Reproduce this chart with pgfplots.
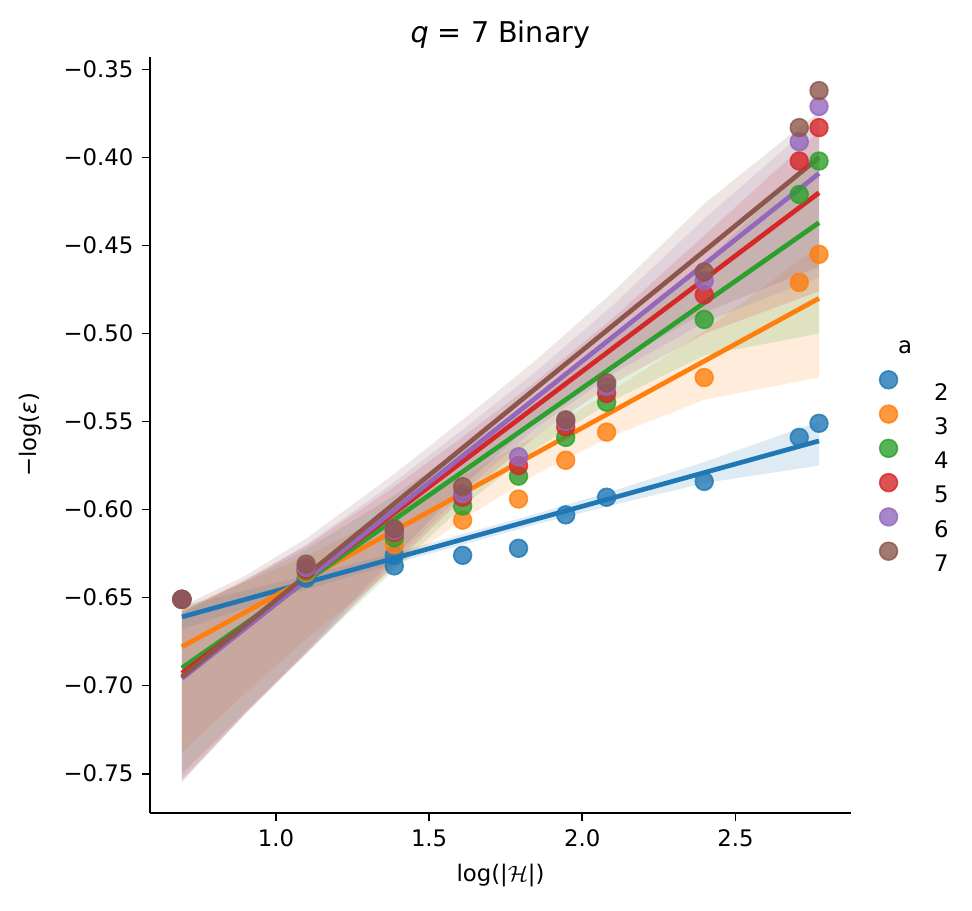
\documentclass[border=0pt]{standalone}
\usepackage{fontspec}
\setmainfont{DejaVu Sans}
\usepackage{pgfplots}
\pgfplotsset{compat=1.18}
\definecolor{c2}{HTML}{1F77B4}
\definecolor{c3}{HTML}{FF7F0E}
\definecolor{c4}{HTML}{2CA02C}
\definecolor{c5}{HTML}{D62728}
\definecolor{c6}{HTML}{9467BD}
\definecolor{c7}{HTML}{8C564B}
\pgfplotsset{
  pts/.style={only marks, mark=*, mark size=3.2pt, color=#1, fill opacity=0.8, draw opacity=0.8, mark options={line width=0.6pt}},
  fit/.style={color=#1, line width=1.7pt, forget plot},
  band/.style={fill=#1, fill opacity=0.15, draw=none, forget plot},
}
\begin{document}
\fontsize{8.2}{10}\selectfont
\begin{tikzpicture}
\begin{axis}[name=ax, scale only axis, width=252.36pt, height=272.16pt,
  xmin=0.589, xmax=2.877, ymin=-0.7724, ymax=-0.3429,
  axis x line*=bottom, axis y line*=left,
  axis line style={line width=0.66pt, -},
  xtick={1,1.5,2,2.5}, xticklabels={1.0,1.5,2.0,2.5},
  ytick={-0.75,-0.7,-0.65,-0.6,-0.55,-0.5,-0.45,-0.4,-0.35},
  yticklabels={−0.75,−0.70,−0.65,−0.60,−0.55,−0.50,−0.45,−0.40,−0.35},
  tick align=outside, major tick length=2.9pt,
  tick style={line width=0.66pt, black},
  ticklabel style={font=\fontsize{8.2}{10}\selectfont},
  xticklabel style={anchor=north, inner sep=0pt, yshift=-2.9pt},
  yticklabel style={anchor=east, inner sep=0pt, xshift=-2.9pt},
  xlabel={log(|$\mathcal{H}$|)}, ylabel={−log(\textit{ε})},
  label style={font=\fontsize{8.2}{10}\selectfont},
  xlabel style={at={(axis description cs:0.5,-0.082)}, anchor=center},
  ylabel style={at={(axis description cs:-0.1712,0.5)}, anchor=center},
  every axis title shift=0pt,
  title={\textit{q} = 7 Binary},
  title style={font=\fontsize{10.3}{12}\selectfont, at={(axis description cs:0.5,1)}, anchor=base, yshift=5.4pt},
  legend style={draw=none, fill=none, inner sep=0pt, outer sep=0pt,
    font=\fontsize{8.2}{10}\selectfont,
    at={(axis description cs:1.0409,0.5848)}, anchor=north west,
    row sep=1.84pt, column sep=0pt,
    nodes={inner sep=0pt, text height=7.3pt, text depth=0pt}},
  legend cell align=left,
  legend image code/.code={\path (0pt,0pt) (16.2pt,0pt); \draw[#1] plot coordinates {(0pt,3.65pt)};},
]
% a = 2
\addplot[pts=c2] coordinates {(0.6931,-0.651) (1.0986,-0.639) (1.3863,-0.632) (1.3863,-0.626) (1.6094,-0.626) (1.7918,-0.622) (1.9459,-0.603) (2.0794,-0.593) (2.3979,-0.584) (2.7081,-0.559) (2.7726,-0.551)};
\addlegendentry{2}
\addplot[band=c2] coordinates {(0.6931,-0.668) (0.9,-0.656) (1.1,-0.6454) (1.374,-0.6313) (1.6,-0.6204) (1.85,-0.6084) (2.1,-0.5974) (2.4,-0.5849) (2.7726,-0.575)
 (2.7726,-0.550) (2.4,-0.5729) (2.1,-0.5894) (1.85,-0.6024) (1.6,-0.6144) (1.374,-0.6253) (1.1,-0.6374) (0.9,-0.646) (0.6931,-0.655)} -- cycle;
% a = 3
\addplot[pts=c3] coordinates {(0.6931,-0.651) (1.0986,-0.636) (1.3863,-0.620) (1.6094,-0.606) (1.7918,-0.594) (1.9459,-0.572) (2.0794,-0.556) (2.3979,-0.525) (2.7081,-0.471) (2.7726,-0.455)};
\addlegendentry{3}
\addplot[band=c3] coordinates {(0.6931,-0.738) (0.9,-0.7043) (1.1,-0.6733) (1.374,-0.6352) (1.6,-0.6067) (1.85,-0.5799) (2.1,-0.5581) (2.4,-0.5375) (2.7726,-0.525)
 (2.7726,-0.450) (2.4,-0.4985) (2.1,-0.5321) (1.85,-0.5579) (1.6,-0.5817) (1.374,-0.6022) (1.1,-0.6263) (0.9,-0.6413) (0.6931,-0.656)} -- cycle;
% a = 4
\addplot[pts=c4] coordinates {(0.6931,-0.651) (1.0986,-0.635) (1.3863,-0.616) (1.6094,-0.598) (1.7918,-0.581) (1.9459,-0.559) (2.0794,-0.539) (2.3979,-0.492) (2.7081,-0.421) (2.7726,-0.402)};
\addlegendentry{4}
\addplot[band=c4] coordinates {(0.6931,-0.750) (0.9,-0.7148) (1.1,-0.6815) (1.374,-0.6362) (1.6,-0.5997) (1.85,-0.5653) (2.1,-0.5379) (2.4,-0.5124) (2.7726,-0.500)
 (2.7726,-0.397) (2.4,-0.4594) (2.1,-0.5029) (1.85,-0.5363) (1.6,-0.5667) (1.374,-0.5932) (1.1,-0.6225) (0.9,-0.6408) (0.6931,-0.658)} -- cycle;
% a = 5
\addplot[pts=c5] coordinates {(0.6931,-0.651) (1.0986,-0.634) (1.3863,-0.613) (1.6094,-0.593) (1.7918,-0.575) (1.9459,-0.553) (2.0794,-0.534) (2.3979,-0.478) (2.7081,-0.402) (2.7726,-0.383)};
\addlegendentry{5}
\addplot[band=c5] coordinates {(0.6931,-0.753) (0.9,-0.7158) (1.1,-0.6816) (1.374,-0.6336) (1.6,-0.5950) (1.85,-0.5581) (2.1,-0.5283) (2.4,-0.5000) (2.7726,-0.476)
 (2.7726,-0.385) (2.4,-0.4440) (2.1,-0.4913) (1.85,-0.5271) (1.6,-0.5600) (1.374,-0.5886) (1.1,-0.6206) (0.9,-0.6398) (0.6931,-0.658)} -- cycle;
% a = 6
\addplot[pts=c6] coordinates {(0.6931,-0.651) (1.0986,-0.633) (1.3863,-0.612) (1.6094,-0.591) (1.7918,-0.570) (1.9459,-0.550) (2.0794,-0.530) (2.3979,-0.470) (2.7081,-0.391) (2.7726,-0.371)};
\addlegendentry{6}
\addplot[band=c6] coordinates {(0.6931,-0.754) (0.9,-0.7164) (1.1,-0.6818) (1.374,-0.6320) (1.6,-0.5919) (1.85,-0.5534) (2.1,-0.5229) (2.4,-0.4935) (2.7726,-0.468)
 (2.7726,-0.378) (2.4,-0.4345) (2.1,-0.4839) (1.85,-0.5214) (1.6,-0.5559) (1.374,-0.5860) (1.1,-0.6198) (0.9,-0.6404) (0.6931,-0.659)} -- cycle;
% a = 7
\addplot[pts=c7] coordinates {(0.6931,-0.651) (1.0986,-0.631) (1.3863,-0.611) (1.6094,-0.587) (1.9459,-0.549) (2.0794,-0.528) (2.3979,-0.465) (2.7081,-0.383) (2.7726,-0.362)};
\addlegendentry{7}
\addplot[band=c7] coordinates {(0.6931,-0.755) (0.9,-0.7156) (1.1,-0.6803) (1.374,-0.6294) (1.6,-0.5884) (1.85,-0.5489) (2.1,-0.5174) (2.4,-0.4879) (2.7726,-0.462)
 (2.7726,-0.374) (2.4,-0.4259) (2.1,-0.4764) (1.85,-0.5149) (1.6,-0.5504) (1.374,-0.5814) (1.1,-0.6163) (0.9,-0.6376) (0.6931,-0.655)} -- cycle;
% fitted lines (drawn above collections, as in matplotlib)
\addplot[fit=c2] coordinates {(0.6931,-0.661) (2.7726,-0.561)};
\addplot[fit=c3] coordinates {(0.6931,-0.678) (2.7726,-0.480)};
\addplot[fit=c4] coordinates {(0.6931,-0.690) (2.7726,-0.437)};
\addplot[fit=c5] coordinates {(0.6931,-0.693) (2.7726,-0.420)};
\addplot[fit=c6] coordinates {(0.6931,-0.696) (2.7726,-0.409)};
\addplot[fit=c7] coordinates {(0.6931,-0.695) (2.7726,-0.400)};
\end{axis}
\node[font=\fontsize{8.2}{10}\selectfont] at ([xshift=19.44pt, yshift=-104.4pt]ax.north east) {a};
\path ([xshift=-54pt,yshift=-34.92pt]ax.south west) rectangle ([xshift=43.56pt,yshift=20.52pt]ax.north east);
\end{tikzpicture}
\end{document}
